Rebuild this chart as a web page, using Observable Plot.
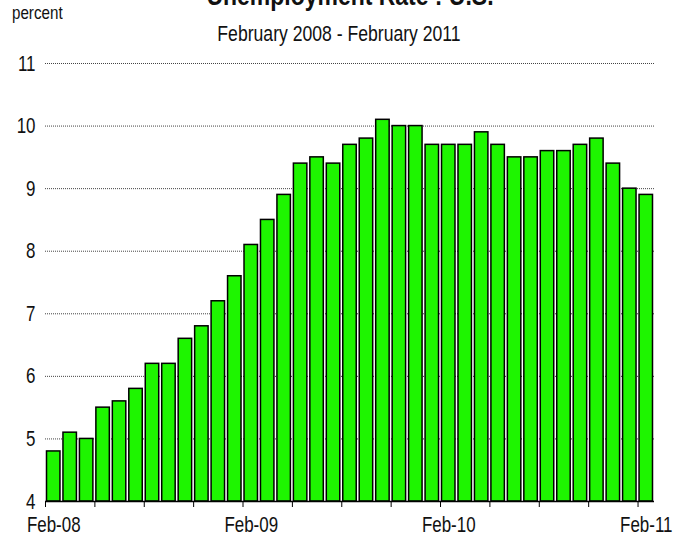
<!DOCTYPE html>
<html>
<head>
<meta charset="utf-8">
<script src="https://cdn.jsdelivr.net/npm/d3@7"></script>
<script src="https://cdn.jsdelivr.net/npm/@observablehq/plot@0.6"></script>
<style>
  html, body { margin: 0; padding: 0; background: white; overflow: hidden; }
  #wrap { position: relative; width: 687px; height: 537px; font-family: "Liberation Sans", Arial, sans-serif; }
  .lbl { position: absolute; white-space: nowrap; color: #111; }
  #title { left: 0; width: 700px; text-align: center; top: -20px; font-size: 28px; font-weight: bold; transform: scaleX(0.82); transform-origin: 350px 0; }
  #percent { left: 12px; top: 2px; font-size: 18.5px; transform: scaleX(0.82); transform-origin: 0 0; }
  #subtitle { left: 0; width: 678px; text-align: center; top: 21px; font-size: 22px; transform: scaleX(0.8); transform-origin: 339px 0; }
  #chart { position: absolute; left: 0; top: 0; }
</style>
</head>
<body>
<div id="wrap">
  <div id="chart"></div>
  <div class="lbl" id="title">Unemployment Rate : U.S.</div>
  <div class="lbl" id="percent">percent</div>
  <div class="lbl" id="subtitle">February 2008 - February 2011</div>
</div>
<script>
const months = ["Feb-08","Mar-08","Apr-08","May-08","Jun-08","Jul-08","Aug-08","Sep-08","Oct-08","Nov-08","Dec-08",
  "Jan-09","Feb-09","Mar-09","Apr-09","May-09","Jun-09","Jul-09","Aug-09","Sep-09","Oct-09","Nov-09","Dec-09",
  "Jan-10","Feb-10","Mar-10","Apr-10","May-10","Jun-10","Jul-10","Aug-10","Sep-10","Oct-10","Nov-10","Dec-10",
  "Jan-11","Feb-11"];
const rates = [4.8,5.1,5.0,5.5,5.6,5.8,6.2,6.2,6.6,6.8,7.2,
  7.6,8.1,8.5,8.9,9.4,9.5,9.4,9.7,9.8,10.1,10.0,10.0,
  9.7,9.7,9.7,9.9,9.7,9.5,9.5,9.6,9.6,9.7,9.8,9.4,
  9.0,8.9];
const yTicks = [4,5,6,7,8,9,10,11];
const xLabels = ["Feb-08","Feb-09","Feb-10","Feb-11"];

const data = months.map((m, i) => ({month: m, i, rate: rates[i]}));
const quarterTicks = d3.range(0, months.length, 3);
const labelPos = xLabels.map(l => months.indexOf(l) + 0.5);

const chart = Plot.plot({
  width: 687,
  height: 537,
  marginLeft: 45,
  marginRight: 33,
  marginTop: 63,
  marginBottom: 36,
  style: {fontFamily: '"Liberation Sans", Arial, sans-serif', fontSize: "22px", color: "#111", background: "white", overflow: "visible"},
  x: {type: "linear", domain: [0, months.length]},
  y: {domain: [4, 11]},
  marks: [
    Plot.gridY(yTicks, {stroke: "#444", strokeOpacity: 1, strokeWidth: 1, strokeDasharray: "1,1"}),
    Plot.rectY(data, {x1: "i", x2: d => d.i + 1, y1: 4, y2: "rate", fill: "#1ef500", stroke: "#000", strokeWidth: 1.5, insetLeft: 1.5, insetRight: 1.5}),
    Plot.ruleY([4], {stroke: "#000", strokeWidth: 1.5}),
    Plot.axisY(yTicks, {tickSize: 0, tickPadding: 10, label: null, fontSize: 22, tickFormat: d => String(d)}),
    Plot.axisX(quarterTicks, {tickSize: 6, stroke: "#000", strokeWidth: 1, tickFormat: () => "", label: null}),
    Plot.axisX(labelPos, {tickSize: 0, tickPadding: 15, tickFormat: d => months[Math.floor(d)], label: null, fontSize: 22})
  ]
});
document.getElementById("chart").appendChild(chart);

// condense SVG text horizontally (narrow sans look) without moving anchors
chart.querySelectorAll("text").forEach(t => {
  const len = t.getComputedTextLength();
  if (len > 0) {
    t.setAttribute("textLength", (len * 0.77).toFixed(2));
    t.setAttribute("lengthAdjust", "spacingAndGlyphs");
  }
});
</script>
</body>
</html>
